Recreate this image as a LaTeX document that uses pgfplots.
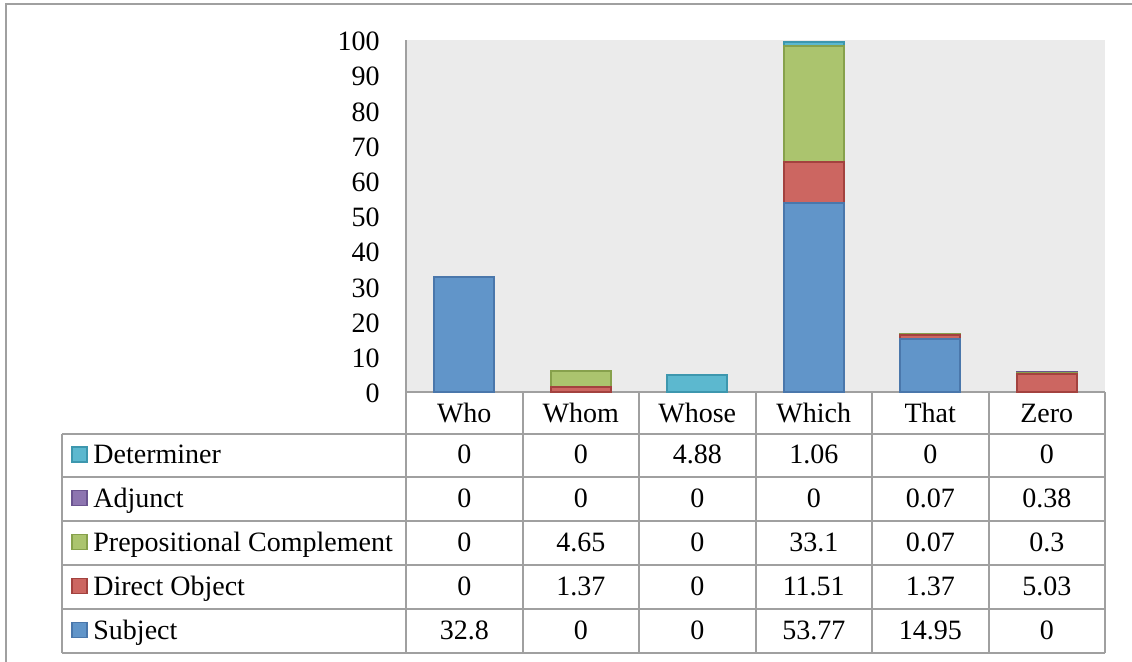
\documentclass[border=0pt]{standalone}
\usepackage{fontspec}
\setmainfont{Liberation Serif}
\usepackage{pgfplots}
\pgfplotsset{compat=1.18}
\definecolor{cSub}{HTML}{6195C9}\definecolor{cSubD}{HTML}{4A77AB}
\definecolor{cDO}{HTML}{CC6661}\definecolor{cDOD}{HTML}{A3423F}
\definecolor{cPC}{HTML}{ABC46E}\definecolor{cPCD}{HTML}{87A14C}
\definecolor{cAdj}{HTML}{8D75B0}\definecolor{cAdjD}{HTML}{6B5590}
\definecolor{cDet}{HTML}{5CB8CF}\definecolor{cDetD}{HTML}{3D97AE}
\definecolor{bg}{HTML}{EBEBEB}
\definecolor{lg}{HTML}{A0A0A0}
\begin{document}
\fontsize{14}{16}\selectfont
\begin{tikzpicture}
\begin{scope}[x=0.5pt,y=-0.5pt]
\useasboundingbox (0,0) rectangle (1132,662);
\draw[lg,line width=0.8pt] (6,662) -- (6,4) -- (1132,4);
\end{scope}
\begin{axis}[at={(203pt,-196pt)}, anchor=south west,
  width=349.5pt, height=176pt, scale only axis,
  ybar stacked, stacked ignores zero, bar width=30pt,
  xmin=-0.5, xmax=5.5, ymin=0, ymax=100,
  ytick={0,10,...,100},
  xtick={0,...,5}, xticklabels={Who,Whom,Whose,Which,That,Zero},
  major tick length=0pt,
  axis x line*=bottom, axis y line*=left,
  axis line style={lg, line width=1pt, -},
  axis background/.style={fill=bg},
  /pgf/number format/assume math mode=true,
  ticklabel style={font=\fontsize{14}{16}\selectfont},
  xticklabel style={anchor=base, yshift=-15.3pt},
  yticklabel style={xshift=-8.3pt, yshift=-0.8pt},
  clip=false,
]
\addplot[fill=cSub, draw=cSubD, line width=1pt] coordinates {(0,32.8)(1,0)(2,0)(3,53.77)(4,14.95)(5,0)};
\addplot[fill=cDO, draw=cDOD, line width=1pt] coordinates {(0,0)(1,1.37)(2,0)(3,11.51)(4,1.37)(5,5.03)};
\addplot[fill=cPC, draw=cPCD, line width=1pt] coordinates {(0,0)(1,4.65)(2,0)(3,33.1)(4,0.07)(5,0.3)};
\addplot[fill=cAdj, draw=cAdjD, line width=1.2pt] coordinates {(0,0)(1,0)(2,0)(3,0)(4,0.07)(5,0.38)};
\addplot[fill=cDet, draw=cDetD, line width=1pt] coordinates {(0,0)(1,0)(2,4.88)(3,1.06)(4,0)(5,0)};
\end{axis}
\begin{scope}[x=0.5pt,y=-0.5pt]
\foreach \y in {434,477,521,565,609,653} \draw[lg,line width=1pt] (62,\y) -- (1105,\y);
\draw[lg,line width=1pt] (62,434) -- (62,653);
\foreach \x in {406,522.5,639,755.5,872,988.5,1105} \draw[lg,line width=1pt] (\x,392) -- (\x,653);
% legend keys and row names
\foreach \yb/\c/\cd/\name in {464/cDet/cDetD/Determiner, 507.5/cAdj/cAdjD/Adjunct, 551.5/cPC/cPCD/Prepositional Complement, 595.5/cDO/cDOD/Direct Object, 639.5/cSub/cSubD/Subject}{
  \draw[fill=\c, draw=\cd, line width=0.6pt] (72,\yb-17) rectangle (87,\yb-2);
  \node[anchor=base west, inner sep=0pt] at (93,\yb) {\name};
}
% values
\foreach \yb/\a/\b/\cc/\d/\e/\f in {464/0/0/4.88/1.06/0/0, 507.5/0/0/0/0/0.07/0.38, 551.5/0/4.65/0/33.1/0.07/0.3, 595.5/0/1.37/0/11.51/1.37/5.03, 639.5/32.8/0/0/53.77/14.95/0}{
  \node[anchor=base, inner sep=0pt] at (464.25,\yb) {\a};
  \node[anchor=base, inner sep=0pt] at (580.75,\yb) {\b};
  \node[anchor=base, inner sep=0pt] at (697.25,\yb) {\cc};
  \node[anchor=base, inner sep=0pt] at (813.75,\yb) {\d};
  \node[anchor=base, inner sep=0pt] at (930.25,\yb) {\e};
  \node[anchor=base, inner sep=0pt] at (1046.75,\yb) {\f};
}
\end{scope}
\end{tikzpicture}
\end{document}
